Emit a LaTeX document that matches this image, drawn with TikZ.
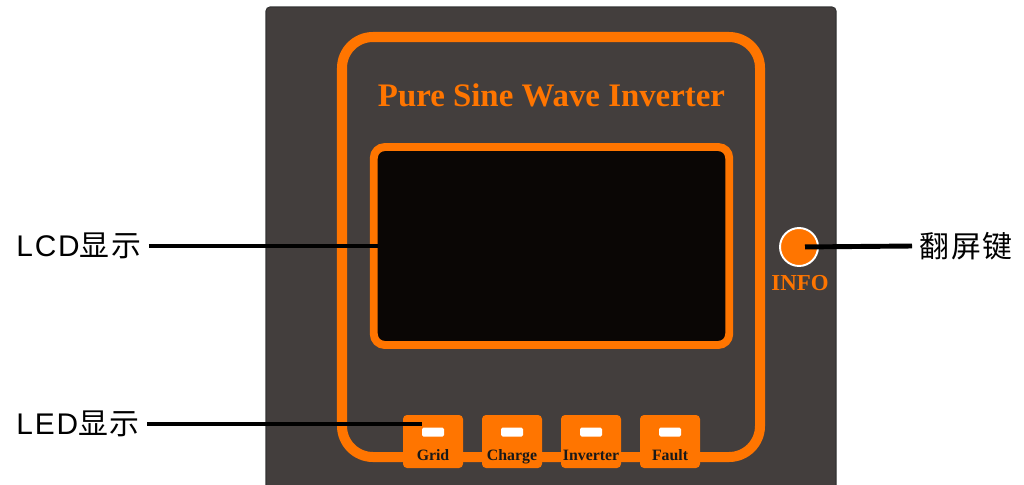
\documentclass[tikz,border=0pt]{standalone}
\usepackage{fontspec}
\setmainfont{Liberation Serif}
\newfontfamily\lsans[LetterSpace=6]{Liberation Sans}
\newfontfamily\cjk[LetterSpace=6]{Noto Sans CJK SC}
\usepackage{xcolor}
\usepackage{tikz}
\usetikzlibrary{positioning}
\definecolor{orng}{HTML}{FF7500}
\definecolor{panelgray}{HTML}{433E3D}
\definecolor{lcdblack}{HTML}{0A0605}
\tikzset{
  panel/.style={draw=black!80, line width=0.6pt, fill=panelgray, rounded corners=0.08cm},
  frame/.style={draw=orng, line width=5.7pt, rounded corners=0.62cm},
  lcd/.style={rectangle, draw=orng, fill=lcdblack, line width=4.5pt, rounded corners=0.22cm,
              minimum width=7.11cm, minimum height=3.96cm, outer sep=0pt},
  ledbox/.style={rectangle, fill=orng, rounded corners=0.08cm, inner sep=0pt,
                 minimum width=1.2cm, minimum height=1.06cm},
  lamp/.style={rectangle, fill=white, rounded corners=0.03cm, inner sep=0pt,
               minimum width=0.44cm, minimum height=0.18cm},
  ledtxt/.style={anchor=base, text=black!90, inner sep=0pt,
                 font=\fontsize{9}{10}\selectfont\bfseries},
  btn/.style={circle, fill=orng, draw=white, line width=1.1pt, inner sep=0pt,
              minimum size=0.76cm},
  lbl/.style={inner sep=0pt, outer xsep=0.15cm, font=\fontsize{17}{20}\selectfont},
  lead/.style={draw=black, line width=2.8pt}
}
\begin{document}
\begin{tikzpicture}[x=0.02cm, y=-0.02cm]
  \useasboundingbox (0,0) rectangle (1024,484);
  \fill[white] (0,0) rectangle (1024,484);
  \draw[panel] (266,7) rectangle (836,495);
  \draw[frame] (342,37) rectangle (760,457);
  \node[text=orng, font=\fontsize{18.7}{22}\selectfont\bfseries] (title) at (551.5,95) {Pure Sine Wave Inverter};
  \node[lcd] (lcd) at (551.5,246) {};
  \foreach \t [count=\i] in {Grid,Charge,Inverter,Fault} {
    \node[ledbox] (led\i) at (354+79*\i,441.5) {};
    \node[lamp] (lamp\i) at (354+79*\i,432) {};
    \node[ledtxt] at (354+79*\i,460) {\t};
  }
  \node[btn] (info) at (799,247) {};
  \node[anchor=base, text=orng, inner sep=0pt, font=\fontsize{13}{15}\selectfont\bfseries] (infotxt) at (800,290) {INFO};
  \node[lbl, anchor=west] (lcdlbl) at (9,246) {{\lsans LCD}{\cjk 显示}};
  \node[lbl, anchor=west] (ledlbl) at (9,424) {{\lsans LED}{\cjk 显示}};
  \node[lbl, anchor=west] (keylbl) at (912,246) {\cjk 翻屏键};
  \draw[lead, shorten >=-0.08cm] (lcdlbl.east) -- (lcd.west);
  \draw[lead] (ledlbl.east) -- (ledlbl.east -| lamp1.west);
  \draw[lead, shorten <=0.12cm] (info.center) -- (keylbl.west);
\end{tikzpicture}
\end{document}
